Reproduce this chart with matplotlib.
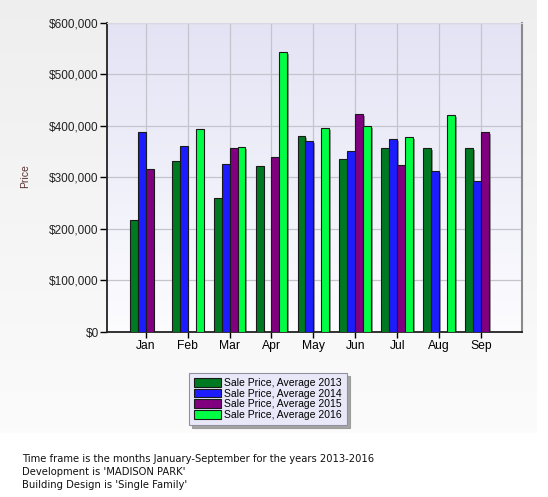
import numpy as np
import matplotlib.pyplot as plt

# 数据
months = ["Jan", "Feb", "Mar", "Apr", "May", "Jun", "Jul", "Aug", "Sep"]
price_2013 = [218000, 331000, 259000, 322000, 380000, 336000, 356000, 357000, 357000]
price_2014 = [388000, 361000, 326000, np.nan, 371000, 352000, 374000, 312000, 293000]
price_2015 = [317000, np.nan, 357000, 340000, np.nan, 423000, 323000, np.nan, 388000]
price_2016 = [np.nan, 393000, 359000, 544000, 395000, 400000, 378000, 421000, np.nan]
series_names = ["Sale Price, Average 2013", "Sale Price, Average 2014",
                "Sale Price, Average 2015", "Sale Price, Average 2016"]
colors = ["#007a22", "#1c1cff", "#800080", "#00ff44"]
notes = ["Time frame is the months January-September for the years 2013-2016",
         "Development is 'MADISON PARK'",
         "Building Design is 'Single Family'"]

plt.rcParams['font.family'] = ['Liberation Sans', 'DejaVu Sans']

W, H = 548, 497
fig = plt.figure(figsize=(W / 100, H / 100), dpi=100)
fig.patch.set_facecolor('white')

# 背景面板（灰色渐变）
bg = fig.add_axes([0, 1 - 433 / H, 537 / W, 433 / H], zorder=-10)
grad = np.linspace(0.935, 0.985, 256).reshape(-1, 1)
bg.imshow(np.dstack([grad, grad, grad]), aspect='auto', extent=[0, 1, 0, 1])
bg.axis('off')

ax = fig.add_axes([107 / W, 1 - 332 / H, (522 - 107) / W, (332 - 22.7) / H])
ax.set_facecolor('none')

# 绘图区渐变
g = np.linspace(0.0, 1.0, 256).reshape(-1, 1)
top = np.array([0.89, 0.89, 0.96])
bot = np.array([0.99, 0.99, 1.0])
img = (bot + (top - bot) * g[..., None])[::-1]
ax.imshow(img, aspect='auto', extent=[0, 1, 0, 1], transform=ax.transAxes, zorder=0)

x = np.arange(1, len(months) + 1)
bw = 0.19
offsets = np.array([-1.5, -0.5, 0.5, 1.5]) * bw
all_series = [price_2013, price_2014, price_2015, price_2016]

for k, (vals, c, name) in enumerate(zip(all_series, colors, series_names)):
    vals = np.array(vals, dtype=float)
    # 阴影
    ax.bar(x + offsets[k] + 0.045, vals - 4000, width=bw, color='#555555',
           alpha=0.6, zorder=2, linewidth=0)
    ax.bar(x + offsets[k], vals, width=bw, color=c, edgecolor='#1a1a1a',
           linewidth=0.8, zorder=3, label=name)

ax.set_xlim(0.08, 9.97)
ax.set_ylim(0, 600000)
ax.set_xticks(x)
ax.set_xticklabels(months, fontsize=8.7)
yt = np.arange(0, 600001, 100000)
ax.set_yticks(yt)
ax.set_yticklabels([f"${v:,.0f}" for v in yt], fontsize=8.5, color='#222222')
ax.grid(True, color='#c4c4cc', linewidth=0.9, zorder=1)
ax.set_axisbelow(True)
ax.tick_params(axis='y', length=5, width=1, pad=1)
ax.tick_params(axis='x', length=4, width=1, pad=2)

for s in ['left', 'bottom']:
    ax.spines[s].set_color('#222222')
    ax.spines[s].set_linewidth(1.3)
ax.spines['right'].set_color('#8a8a8a')
ax.spines['right'].set_linewidth(1.5)
ax.spines['top'].set_color('#d8d8e4')
ax.spines['top'].set_linewidth(0.8)

fig.text(25 / W, 1 - 176 / H, "Price", rotation=90, fontsize=7.5,
         color='#5a3030', ha='center', va='center')

leg = fig.legend(loc='upper left', bbox_to_anchor=(189 / W, 1 - 373 / H),
                 fontsize=7.5, frameon=True, fancybox=False,
                 shadow={'color': '#909090', 'alpha': 0.8},
                 handlelength=2.6, handleheight=0.9, handletextpad=0.3,
                 labelspacing=0.05, borderpad=0.5, borderaxespad=0)
leg.get_frame().set_facecolor('#e8e8f8')
leg.get_frame().set_edgecolor('#9090a0')
leg.get_frame().set_linewidth(0.8)

for i, line in enumerate(notes):
    fig.text(22 / W, 1 - (459 + 13 * i) / H, line, fontsize=7.2, color='#111111',
             family=['DejaVu Sans'], ha='left', va='center')

fig.savefig('out.png', dpi=100)
